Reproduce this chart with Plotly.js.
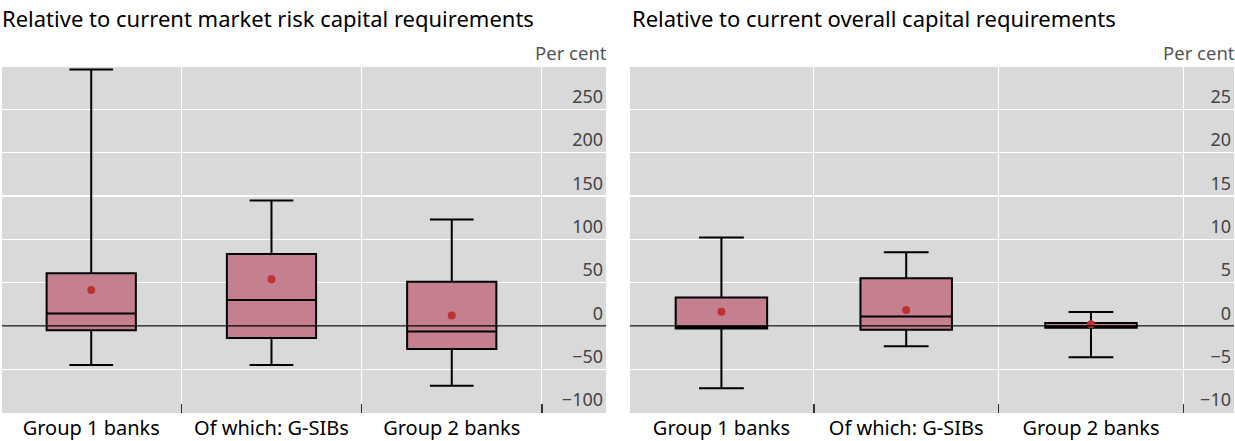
<!DOCTYPE html>
<html>
<head>
<meta charset="utf-8">
<script src="https://cdn.plot.ly/plotly-3.0.1.min.js"></script>
<style>html,body{margin:0;padding:0;background:#fff;}#chart{width:1235px;height:441px;}</style>
</head>
<body>
<div id="chart"></div>
<script>
// Categories
const categories = ['Group 1 banks', 'Of which: G-SIBs', 'Group 2 banks'];

// Panel 1: relative to current market risk capital requirements (per cent)
const mrLower  = [-45, -45, -69];
const mrQ1     = [-5, -14, -26.5];
const mrMedian = [14.5, 30, -6.5];
const mrQ3     = [61, 83, 51];
const mrUpper  = [296, 145, 123];
const mrMean   = [41.5, 54, 12];

// Panel 2: relative to current overall capital requirements (per cent)
const ocLower  = [-7.2, -2.35, -3.6];
const ocQ1     = [-0.3, -0.45, -0.2];
const ocMedian = [-0.1, 1.1, -0.1];
const ocQ3     = [3.3, 5.5, 0.35];
const ocUpper  = [10.2, 8.5, 1.6];
const ocMean   = [1.65, 1.85, 0.2];

// Tick values
const mrTicks = [-100, -50, 0, 50, 100, 150, 200, 250];
const ocTicks = [-10, -5, 0, 5, 10, 15, 20, 25];

const titles = ['Relative to current market risk capital requirements',
                'Relative to current overall capital requirements'];
const unitLabel = 'Per cent';

const FONT = 'Noto Sans, Open Sans, DejaVu Sans, sans-serif';
const BOX_FILL = '#c4808e';
const MEAN_COL = '#bf3030';

function boxTrace(xa, ya, lo, q1, med, q3, up) {
  return {
    type: 'box', x: categories, xaxis: xa, yaxis: ya,
    lowerfence: lo, q1: q1, median: med, q3: q3, upperfence: up,
    boxpoints: false, width: 0.495, whiskerwidth: 0.49,
    fillcolor: BOX_FILL, line: {color: '#000', width: 2},
    hoverinfo: 'skip', showlegend: false
  };
}
function meanTrace(xa, ya, m) {
  return {
    type: 'scatter', mode: 'markers', x: categories, y: m, xaxis: xa, yaxis: ya,
    marker: {color: MEAN_COL, size: 8}, hoverinfo: 'skip', showlegend: false
  };
}

const data = [
  boxTrace('x', 'y', mrLower, mrQ1, mrMedian, mrQ3, mrUpper),
  meanTrace('x', 'y', mrMean),
  boxTrace('x2', 'y2', ocLower, ocQ1, ocMedian, ocQ3, ocUpper),
  meanTrace('x2', 'y2', ocMean)
];

function xAxis(domain, range, anchor) {
  return {
    domain: domain, range: range, type: 'category', anchor: anchor,
    tickson: 'boundaries', ticks: 'inside', ticklen: 9, tickwidth: 1.5, tickcolor: '#333',
    showgrid: true, gridcolor: '#ffffff', gridwidth: 1,
    showline: false, zeroline: false,
    tickfont: {family: FONT, size: 20, color: '#000'},
    ticklabelstandoff: 1, fixedrange: true
  };
}
function yAxis(range, ticks, anchor) {
  return {
    range: range, side: 'right', anchor: anchor,
    tickvals: ticks, ticktext: ticks.map(v => v < 0 ? '\u2212' + Math.abs(v) : String(v)),
    ticklabelposition: 'inside top', ticks: '',
    showgrid: true, gridcolor: '#ffffff', gridwidth: 1.5,
    zeroline: false, showline: false,
    tickfont: {family: FONT, size: 18, color: '#444'},
    ticklabelstandoff: 0, fixedrange: true
  };
}

const layout = {
  width: 1235, height: 441,
  margin: {l: 2, r: 1, t: 67, b: 28},
  paper_bgcolor: '#ffffff', plot_bgcolor: '#d9d9d9',
  font: {family: FONT},
  showlegend: false,
  xaxis:  xAxis([0, 0.4903], [-0.495, 2.856], 'y'),
  yaxis:  yAxis([-100.5, 299], mrTicks, 'x'),
  xaxis2: xAxis([0.5097, 1], [-0.495, 2.774], 'y2'),
  yaxis2: yAxis([-10.05, 29.9], ocTicks, 'x2'),
  shapes: [
    {type: 'line', xref: 'x domain', yref: 'y', x0: 0, x1: 1, y0: 0, y1: 0,
     line: {color: '#000', width: 1.2}, layer: 'above'},
    {type: 'line', xref: 'x2 domain', yref: 'y2', x0: 0, x1: 1, y0: 0, y1: 0,
     line: {color: '#000', width: 1.2}, layer: 'above'}
  ],
  annotations: [
    {text: titles[0], xref: 'paper', yref: 'paper', x: -0.0016, y: 1, yshift: 66,
     xanchor: 'left', yanchor: 'top', showarrow: false,
     font: {family: FONT, size: 22, color: '#000'}},
    {text: titles[1], xref: 'paper', yref: 'paper', x: 0.5097, y: 1, yshift: 66,
     xanchor: 'left', yanchor: 'top', showarrow: false,
     font: {family: FONT, size: 22, color: '#000'}},
    {text: unitLabel, xref: 'x domain', yref: 'paper', x: 1, y: 1,
     xanchor: 'right', yanchor: 'bottom', showarrow: false, yshift: 0, xshift: 3,
     font: {family: FONT, size: 18.5, color: '#555'}},
    {text: unitLabel, xref: 'x2 domain', yref: 'paper', x: 1, y: 1,
     xanchor: 'right', yanchor: 'bottom', showarrow: false, yshift: 0, xshift: 3,
     font: {family: FONT, size: 18.5, color: '#555'}}
  ]
};

Plotly.newPlot('chart', data, layout, {staticPlot: true, displayModeBar: false});
</script>
</body>
</html>
